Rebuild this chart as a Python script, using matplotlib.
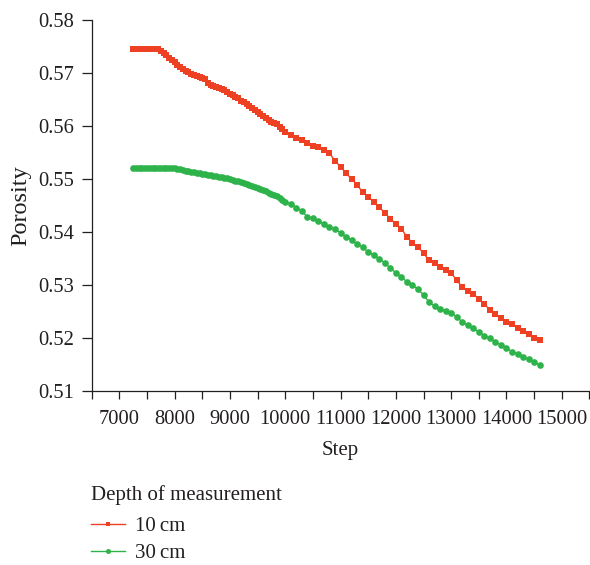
"""Porosity vs step for two measurement depths."""

import matplotlib
matplotlib.use("Agg")
import matplotlib.pyplot as plt
from matplotlib.ticker import MultipleLocator

plt.rcParams.update({
    "font.family": ["Liberation Serif", "DejaVu Serif"],
    "font.size": 14.8,
    "text.color": "#231f20",
    "axes.labelcolor": "#231f20",
    "xtick.color": "#231f20",
    "ytick.color": "#231f20",
})

# dense early record (every 50 steps), then every 100 steps
steps = list(range(7250, 10000, 50)) + list(range(10000, 14700, 100))

por_10cm = [
    0.5745, 0.5745, 0.5745, 0.5745, 0.5745, 0.5745, 0.5745, 0.5745, 0.5745, 0.5745,
    0.5742, 0.5738, 0.5734, 0.5729, 0.5725, 0.5721, 0.5716, 0.5712, 0.5708, 0.5704,
    0.5701, 0.5698, 0.5696, 0.5694, 0.5692, 0.5690, 0.5688, 0.5681, 0.5678, 0.5676,
    0.5673, 0.5671, 0.5670, 0.5667, 0.5664, 0.5661, 0.5658, 0.5655, 0.5652, 0.5648,
    0.5645, 0.5641, 0.5637, 0.5634, 0.5630, 0.5626, 0.5622, 0.5619, 0.5615, 0.5611,
    0.5608, 0.5606, 0.5604, 0.5599, 0.5594,
    # 10000 .. 14600
    0.5589, 0.5583, 0.5577, 0.5573, 0.5567, 0.5563, 0.5560, 0.5555, 0.5549, 0.5534,
    0.5523, 0.5511, 0.5500, 0.5489, 0.5475, 0.5466, 0.5457, 0.5447, 0.5436, 0.5425,
    0.5415, 0.5406, 0.5391, 0.5379, 0.5372, 0.5360, 0.5347, 0.5342, 0.5334, 0.5328,
    0.5323, 0.5309, 0.5296, 0.5289, 0.5283, 0.5274, 0.5264, 0.5253, 0.5245, 0.5238,
    0.5230, 0.5226, 0.5219, 0.5213, 0.5208, 0.5200, 0.5196,
]

por_30cm = [
    0.5520, 0.5520, 0.5520, 0.5520, 0.5520, 0.5520, 0.5520, 0.5520, 0.5520, 0.5520,
    0.5520, 0.5520, 0.5520, 0.5520, 0.5520, 0.5520, 0.5519, 0.5518, 0.5517, 0.5516,
    0.5515, 0.5514, 0.5513, 0.5512, 0.5511, 0.5510, 0.5509, 0.5508, 0.5507, 0.5506,
    0.5505, 0.5504, 0.5503, 0.5502, 0.5501, 0.5500, 0.5499, 0.5497, 0.5496, 0.5494,
    0.5492, 0.5490, 0.5489, 0.5487, 0.5485, 0.5483, 0.5481, 0.5479, 0.5477, 0.5474,
    0.5472, 0.5470, 0.5468, 0.5464, 0.5460,
    # 10000 .. 14600
    0.5457, 0.5453, 0.5446, 0.5440, 0.5428, 0.5426, 0.5421, 0.5415, 0.5409, 0.5406,
    0.5398, 0.5391, 0.5385, 0.5377, 0.5372, 0.5362, 0.5357, 0.5349, 0.5342, 0.5332,
    0.5323, 0.5315, 0.5306, 0.5300, 0.5292, 0.5281, 0.5268, 0.5260, 0.5255, 0.5251,
    0.5247, 0.5240, 0.5230, 0.5225, 0.5219, 0.5211, 0.5204, 0.5200, 0.5192, 0.5187,
    0.5181, 0.5174, 0.5170, 0.5164, 0.5160, 0.5155, 0.5149,
]

labels = ["10\u2009cm", "30\u2009cm"]
RED = "#ee4124"
GREEN = "#2db34a"

fig = plt.figure(figsize=(5.9, 5.65), dpi=100)
ax = fig.add_axes([0.1554, 0.308, 0.8436, 0.6566])

ax.plot(steps, por_10cm, color=RED, linewidth=1.0, marker="s",
        markersize=4.6, markeredgewidth=0, label=labels[0])
ax.plot(steps, por_30cm, color=GREEN, linewidth=1.0, marker="o",
        markersize=4.8, markeredgewidth=0, label=labels[1])

ax.set_xlim(6500, 15500)
ax.set_ylim(0.51, 0.58)
ax.xaxis.set_major_locator(MultipleLocator(1000))
ax.xaxis.set_minor_locator(MultipleLocator(500))
ax.yaxis.set_major_locator(MultipleLocator(0.01))
ax.yaxis.set_major_formatter(plt.FormatStrFormatter("%.2f"))
ax.tick_params(axis="both", which="both", direction="out", width=0.9,
               labelsize=14.8)
ax.tick_params(axis="x", which="both", length=6, pad=8)
ax.tick_params(axis="y", length=7, pad=5.5)
for side in ("top", "right"):
    ax.spines[side].set_visible(False)
for side in ("left", "bottom"):
    ax.spines[side].set_color("#231f20")
    ax.spines[side].set_linewidth(0.9)
ax.set_xlabel("Step", fontsize=15, labelpad=8)
ax.set_ylabel("Porosity", fontsize=17.5)
ax.yaxis.set_label_coords(-0.122, 0.5)

leg = fig.legend(loc="upper left", bbox_to_anchor=(0.155, 0.142),
                 title="Depth of measurement", frameon=False,
                 fontsize=15, title_fontsize=15, handlelength=1.6,
                 handletextpad=0.5, labelspacing=0.35, markerscale=0.75,
                 borderaxespad=0, borderpad=0)
leg._legend_box.align = "left"
leg._legend_box.sep = 8.5

fig.savefig("out.png", dpi=100)
